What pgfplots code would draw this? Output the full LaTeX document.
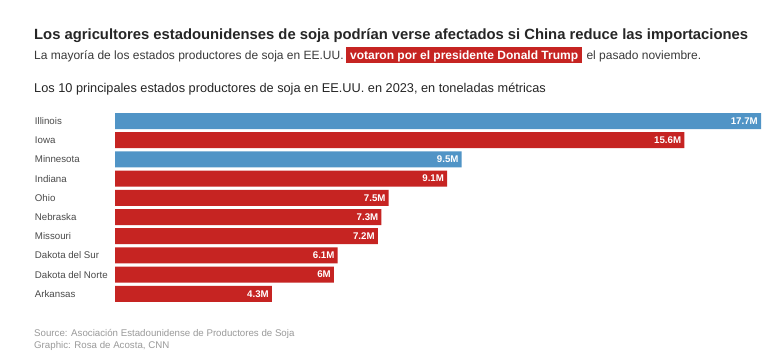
\documentclass[border=0pt]{standalone}
\usepackage{fontspec}
\setmainfont{Liberation Sans}
\usepackage{pgfplots}
\usepackage{pgfplotstable}
\pgfplotsset{compat=1.18}
\definecolor{cnnred}{HTML}{C62422}
\definecolor{cnnblue}{HTML}{5094C6}
\definecolor{titlec}{HTML}{262626}
\definecolor{subc}{HTML}{3A3A3A}
\definecolor{labc}{HTML}{4A4A4A}
\definecolor{srcc}{HTML}{9A9A9A}
\pgfplotstableread{
i v lab
0 17.7 17.7M
2 9.5 9.5M
}\bluedata
\pgfplotstableread{
i v lab
1 15.6 15.6M
3 9.1 9.1M
4 7.5 7.5M
5 7.3 7.3M
6 7.2 7.2M
7 6.1 6.1M
8 6.0 6M
9 4.3 4.3M
}\reddata
\begin{document}
\begin{tikzpicture}
\path[fill=white] (0pt,0pt) rectangle (776pt,-358pt);
\node[anchor=base west, inner sep=0pt, text=titlec, font=\fontsize{14.8}{16}\selectfont\bfseries] at (34pt,-40pt) {Los agricultores estadounidenses de soja podrían verse afectados si China reduce las importaciones};
\node[anchor=base west, inner sep=0pt, text=subc, font=\fontsize{12}{14}\selectfont] (a) at (34pt,-59.3pt) {La mayoría de los estados productores de soja en EE.UU.};
\node[anchor=base west, inner xsep=4pt, inner ysep=0pt, text height=12.6pt, text depth=3.4pt, fill=cnnred, text=white, font=\fontsize{12}{14}\selectfont\bfseries] (b) at ([xshift=2pt]a.base east) {votaron por el presidente Donald Trump};
\node[anchor=base west, inner sep=0pt, text=subc, font=\fontsize{12}{14}\selectfont] at ([xshift=4pt]b.base east) {el pasado noviembre.};
\node[anchor=base west, inner sep=0pt, text=titlec, font=\fontsize{12.75}{15}\selectfont] at (34pt,-92.3pt) {Los 10 principales estados productores de soja en EE.UU. en 2023, en toneladas métricas};
\node[anchor=base west, inner sep=0pt, text=srcc, font=\fontsize{9.7}{12}\selectfont] at (34pt,-336.7pt) {Source: Asociación Estadounidense de Productores de Soja};
\node[anchor=base west, inner sep=0pt, text=srcc, font=\fontsize{9.7}{12}\selectfont] at (34pt,-348.7pt) {Graphic: Rosa de Acosta, CNN};
\begin{axis}[
  at={(115pt,-111.4pt)}, anchor=north west,
  scale only axis, width=646pt, height=192pt,
  xmin=0, xmax=17.7, ymin=-0.5, ymax=9.5,
  enlargelimits=false, y dir=reverse, clip=false,
  xbar, bar width=16pt,
  axis line style={draw=none}, tick style={draw=none},
  xtick=\empty, ytick={0,...,9},
  yticklabels={Illinois,Iowa,Minnesota,Indiana,Ohio,Nebraska,Missouri,Dakota del Sur,Dakota del Norte,Arkansas},
  yticklabel style={anchor=west, xshift=-76pt, yshift=-1pt, inner sep=0pt, text height=7pt, text depth=2pt, text=labc, font=\fontsize{9.7}{11}\selectfont},
  point meta=explicit symbolic,
  nodes near coords,
  every node near coord/.append style={anchor=east, xshift=-3pt, inner sep=0pt, text=white, font=\fontsize{9.7}{10}\selectfont\bfseries},
]
\addplot[fill=cnnblue, draw=none, bar shift=0pt] table[x=v, y=i, meta=lab] {\bluedata};
\addplot[fill=cnnred, draw=none, bar shift=0pt] table[x=v, y=i, meta=lab] {\reddata};
\end{axis}
\end{tikzpicture}
\end{document}
